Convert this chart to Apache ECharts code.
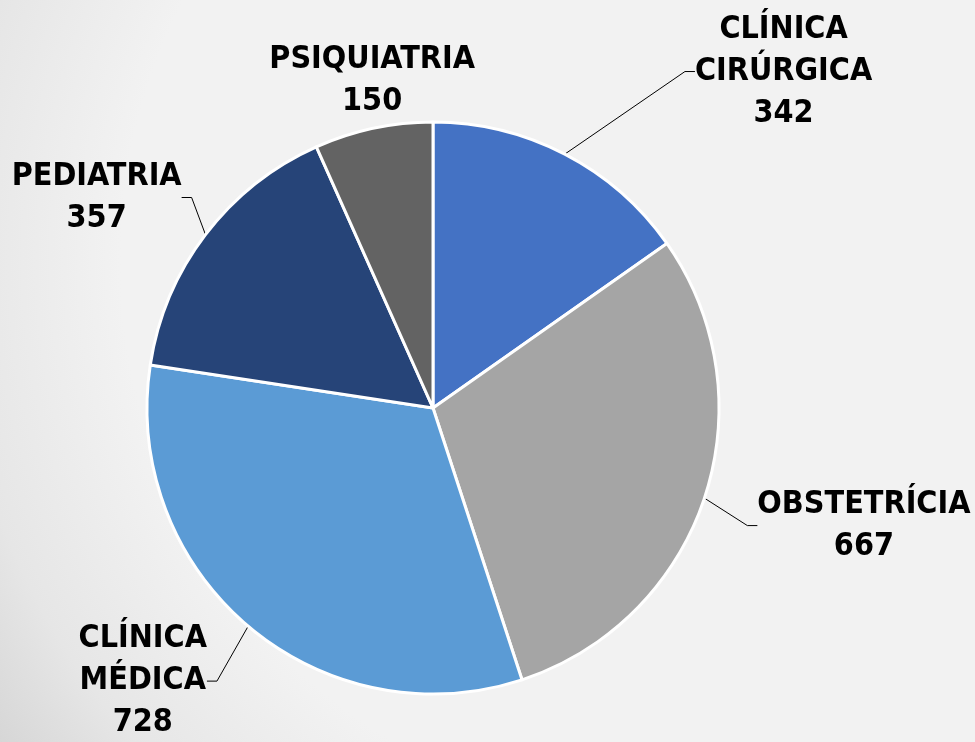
<!DOCTYPE html>
<html>
<head>
<meta charset="utf-8">
<script src="https://cdn.jsdelivr.net/npm/echarts@6/dist/echarts.min.js"></script>
<style>
  html, body { margin: 0; padding: 0; }
  #chart-container { width: 975px; height: 742px; }
</style>
</head>
<body>
<div id="chart-container"></div>
<script>
// Slices, clockwise from 12 o'clock
const categories = ["CLÍNICA\nCIRÚRGICA", "OBSTETRÍCIA", "CLÍNICA\nMÉDICA", "PEDIATRIA", "PSIQUIATRIA"];
const values = [342, 667, 728, 357, 150];
const sliceColors = ["#4472C4", "#A5A5A5", "#5B9BD5", "#264478", "#636363"];

// where each label's centre sits, measured from the end of its default leader line (px)
const labelNudge = [[190, -56], [116, 18], [-71, 32], [-70, -19], [20, -18]];

const chart = echarts.init(document.getElementById("chart-container"));
const pieCenter = [433, 408];

const option = {
  backgroundColor: {
    type: "radial",
    x: 0.7,
    y: 0.35,
    r: 1.13,
    colorStops: [
      { offset: 0, color: "#f2f2f2" },
      { offset: 0.67, color: "#f2f2f2" },
      { offset: 0.87, color: "#e6e6e6" },
      { offset: 1, color: "#d6d6d6" },
    ],
  },
  series: [
    {
      type: "pie",
      center: pieCenter,
      radius: 286,
      startAngle: 90,
      clockwise: true,
      avoidLabelOverlap: false,
      animation: false,
      data: categories.map((name, i) => ({
        name,
        value: values[i],
        itemStyle: { color: sliceColors[i] },
        labelLine: { show: i !== 4 },
      })),
      itemStyle: { borderColor: "#ffffff", borderWidth: 3 },
      label: {
        show: true,
        position: "outside",
        formatter: "{b}\n{c}",
        fontFamily: "'Liberation Sans Narrow', 'Arial Narrow', 'DejaVu Sans Condensed', sans-serif",
        fontWeight: "bold",
        fontSize: 32,
        lineHeight: 42,
        color: "#000000",
      },
      labelLine: {
        length: 30,
        length2: 10,
        lineStyle: { color: "#000000", width: 1 },
      },
      labelLayout: (params) => {
        const r = params.labelRect;
        const n = labelNudge[params.dataIndex];
        // the text edge facing the pie is where the default leader line ends
        const onLeft = r.x + r.width / 2 < pieCenter[0];
        const edgeX = onLeft ? r.x + r.width : r.x;
        return {
          x: edgeX + n[0],
          y: r.y + r.height / 2 + n[1],
          align: "center",
          verticalAlign: "middle",
        };
      },
    },
  ],
};

chart.setOption(option);
</script>
</body>
</html>
